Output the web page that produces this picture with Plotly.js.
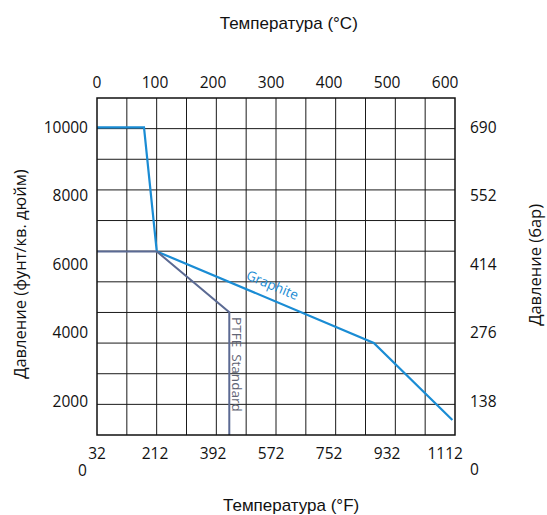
<!DOCTYPE html>
<html>
<head>
<meta charset="utf-8">
<script src="https://cdn.plot.ly/plotly-3.0.1.min.js"></script>
<style>html,body{margin:0;padding:0;background:#fff;}#chart{width:547px;height:515px;}</style>
</head>
<body>
<div id="chart"></div>
<script>
// ---- data ----
const tempCTicks = [0, 100, 200, 300, 400, 500, 600];
const tempCLabels = ['0', '100', '200', '300', '400', '500', '600'];
const tempFLabels = ['32', '212', '392', '572', '752', '932', '1112'];
const psiTicks = [2000, 4000, 6000, 8000, 10000];
const psiLabels = ['2000', '4000', '6000', '8000', '10000'];
const barTicks = [138, 276, 414, 552, 690];
const barLabels = ['138', '276', '414', '552', '690'];
const graphiteC = [0, 81, 103, 477, 612.5];
const graphitePsi = [10000, 10000, 6380, 3710, 1460];
const ptfeC = [0, 103, 228, 228];
const ptfePsi = [6380, 6380, 4607, 1000];
const PSI_PER_BAR = 14.5038;

const xRange = [0, 617];
const yRange = [1022, 10859];

const tickFont = {family: 'Open Sans, sans-serif', size: 15.5, color: '#111'};
const titleFont = {family: 'Liberation Sans, Arial, sans-serif', size: 17, color: '#111'};
const yTitleFont = {family: 'Open Sans, sans-serif', size: 16.5, color: '#111'};

const traces = [
  {x: graphiteC, y: graphitePsi, mode: 'lines', name: 'Graphite',
   line: {color: '#1a8cd4', width: 2.2}, xaxis: 'x', yaxis: 'y', hoverinfo: 'skip'},
  {x: ptfeC, y: ptfePsi, mode: 'lines', name: 'PTFE Standard',
   line: {color: '#5b6a93', width: 2}, xaxis: 'x', yaxis: 'y', hoverinfo: 'skip'},
  {x: tempCTicks.slice(0, 5), y: barTicks, mode: 'markers', marker: {opacity: 0},
   xaxis: 'x2', yaxis: 'y2', hoverinfo: 'skip', showlegend: false}
];

const shapes = [];
for (let k = 1; k < 12; k++) {
  shapes.push({type: 'line', xref: 'x domain', yref: 'y domain', x0: k / 12, x1: k / 12, y0: 0, y1: 1,
    line: {color: '#1a1a1a', width: 1}, layer: 'below'});
}
for (let k = 1; k < 11; k++) {
  shapes.push({type: 'line', xref: 'x domain', yref: 'y domain', x0: 0, x1: 1, y0: k / 11, y1: k / 11,
    line: {color: '#1a1a1a', width: 1}, layer: 'below'});
}
shapes.push({type: 'rect', xref: 'x domain', yref: 'y domain', x0: 0, x1: 1, y0: 0, y1: 1,
  line: {color: '#111', width: 1.5}, layer: 'above'});

const layout = {
  width: 547, height: 515,
  margin: {l: 97, r: 92, t: 98, b: 80},
  paper_bgcolor: '#fff', plot_bgcolor: '#fff',
  showlegend: false,
  title: {text: 'Температура (°C)', x: 293 / 547, xanchor: 'center', y: 1 - 23 / 515, yanchor: 'middle',
    xref: 'paper', yref: 'container', font: titleFont},
  xaxis: {range: xRange, tickvals: tempCTicks, ticktext: tempFLabels, showgrid: false, zeroline: false,
    ticks: '', ticklabelstandoff: 7, tickfont: tickFont, showline: false, fixedrange: true},
  xaxis2: {range: xRange, overlaying: 'x', side: 'top', anchor: 'y', tickvals: tempCTicks, ticktext: tempCLabels,
    showgrid: false, zeroline: false, ticks: '', ticklabelstandoff: 6, tickfont: tickFont, showline: false},
  yaxis: {range: yRange, tickvals: psiTicks, ticktext: psiLabels, showgrid: false, zeroline: false,
    ticks: '', ticklabelstandoff: 8, tickfont: tickFont, showline: false},
  yaxis2: {range: [yRange[0] / PSI_PER_BAR, yRange[1] / PSI_PER_BAR], overlaying: 'y', side: 'right', anchor: 'x',
    tickvals: barTicks, ticktext: barLabels, showgrid: false, zeroline: false, ticks: '', ticklabelstandoff: 14,
    tickfont: tickFont, showline: false},
  shapes: shapes,
  annotations: [
    {text: 'Температура (°F)', xref: 'paper', yref: 'paper', x: (291 - 97) / 358, y: (435 - 505) / 336.7,
     showarrow: false, font: titleFont, xanchor: 'center', yanchor: 'middle'},
    {text: 'Давление (фунт/кв. дюйм)', xref: 'paper', yref: 'paper', x: (20 - 97) / 358, y: (435 - 274) / 336.7,
     showarrow: false, textangle: -90, font: yTitleFont, xanchor: 'center', yanchor: 'middle'},
    {text: 'Давление (бар)', xref: 'paper', yref: 'paper', x: (535 - 97) / 358, y: (435 - 265) / 336.7,
     showarrow: false, textangle: -90, font: yTitleFont, xanchor: 'center', yanchor: 'middle'},
    {text: '0', xref: 'paper', yref: 'paper', x: (82 - 97) / 358, y: (435 - 470) / 336.7,
     showarrow: false, font: tickFont, xanchor: 'center', yanchor: 'middle'},
    {text: '0', xref: 'paper', yref: 'paper', x: (474.5 - 97) / 358, y: (435 - 468.5) / 336.7,
     showarrow: false, font: tickFont, xanchor: 'center', yanchor: 'middle'},
    {text: 'Graphite', xref: 'x', yref: 'y', x: 303, y: 5405, showarrow: false, textangle: 23,
     font: {family: 'Open Sans, sans-serif', size: 13.5, color: '#1a8cd4'}, xanchor: 'center', yanchor: 'middle'},
    {text: 'PTFE&nbsp;&nbsp;Standard', xref: 'x', yref: 'y', x: 241, y: 3067, showarrow: false, textangle: 90,
     font: {family: 'Open Sans, sans-serif', size: 13.5, color: '#5f6475'}, xanchor: 'center', yanchor: 'middle'}
  ]
};

Plotly.newPlot('chart', traces, layout, {displayModeBar: false, staticPlot: true});
</script>
</body>
</html>
